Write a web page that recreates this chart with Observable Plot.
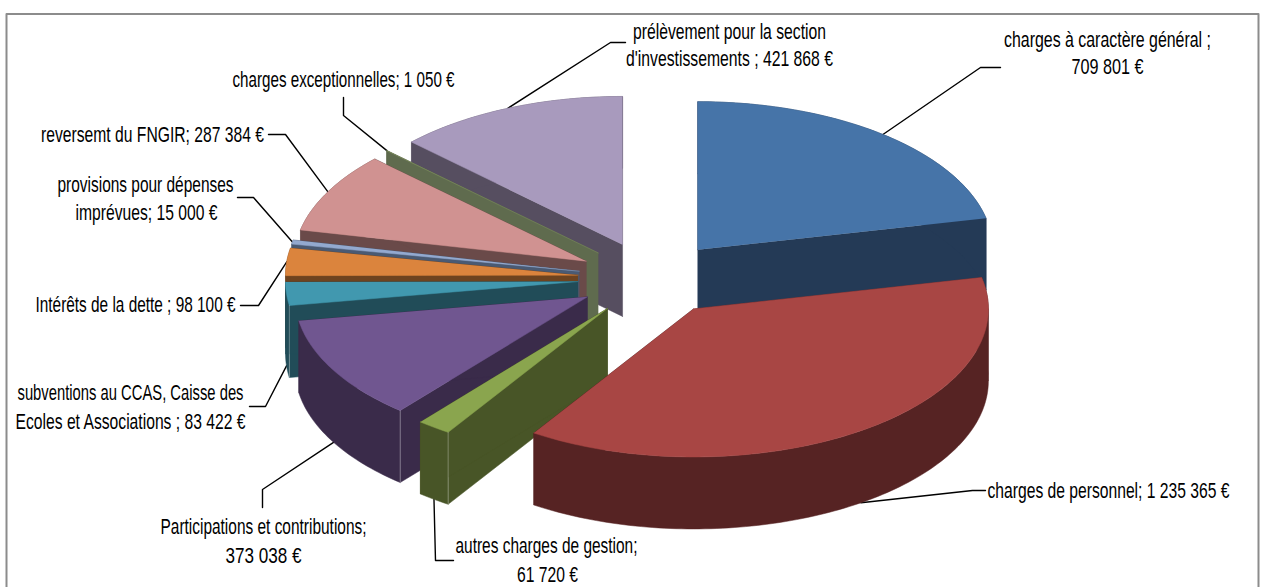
<!DOCTYPE html>
<html lang="fr">
<head>
<meta charset="utf-8">
<script src="https://cdn.jsdelivr.net/npm/d3@7"></script>
<script src="https://cdn.jsdelivr.net/npm/@observablehq/plot@0.6"></script>
<style>
html,body{margin:0;padding:0;background:#fff;overflow:hidden}
svg{display:block}
</style>
</head>
<body>
<div id="chart"></div>
<script>
// --- data -------------------------------------------------------------
const categories = ["charges à caractère général","charges de personnel","autres charges de gestion",
  "Participations et contributions","subventions au CCAS, Caisse des Ecoles et Associations",
  "Intérêts de la dette","provisions pour dépenses imprévues","reversemt du FNGIR",
  "charges exceptionnelles","prélèvement pour la section d'investissements"];
const values = [709801,1235365,61720,373038,83422,98100,15000,287384,1050,421868];
const topColors  = ["#4674a8","#a84644","#8aa54e","#705690","#4198af","#db843d","#93a9cf","#d09291","#7f8f5f","#a89abd"];
const wallColors = ["#243a56","#562323","#485527","#3a2b4a","#214c58","#6e431f","#4a5a73","#6a4a49","#5f6b4e","#564e60"];
// painter's order, back to front
const drawOrder = [0,9,8,7,6,5,4,3,2,1];
// slices whose first front corner carries a faint highlight
const cornerSlices = [2,3,4];

// --- callout layout ---------------------------------------------------
const labelLines = ["charges à caractère général ;","709 801 €","charges de personnel; 1 235 365 €",
  "autres charges de gestion;","61 720 €","Participations et contributions;","373 038 €",
  "subventions au CCAS, Caisse des","Ecoles et Associations ; 83 422 €","Intérêts de la dette ; 98 100 €",
  "provisions pour dépenses","imprévues; 15 000 €","reversemt du FNGIR; 287 384 €",
  "charges exceptionnelles; 1 050 €","prélèvement pour la section","d'investissements ; 421 868 €"];
const labelX = [1107,1107,1108,546,547,263,263,130,130,135,145,146,152,343,729,729];
const labelY = [40,67,491,546,575,527,556,393,422,305,185,213,135,80,32,59];
const labelW = [207,72,242,182,61,206,76,226,230,200,176,142,223,222,193,207];
// elbow and end of each leader, per slice; "drop" = attach at the bottom of the rim
const leaderElbowX = [980,972,435,262,265,258,253,285,343,610];
const leaderElbowY = [67,490,560,489,406,305,197,134,115,42];
const leaderEndX   = [1000,985,453,262,249,240,237,268,343,625];
const leaderEndY   = [67,490,560,507,406,305,197,134,97,42];
const leaderDrop   = [0,1,1,1,1,0,0,0,0,0];

// --- pie geometry ------------------------------------------------------
const W = 1261, H = 587;
const cx = 651, cy = 278, rx = 295, rxLeft = 292.5, ry = 148, explode = 0.25, depth = 72;
const arcs = d3.pie().sort(null).value(d => d)(values);
const mid = a => (a.startAngle + a.endAngle) / 2;
const apex = a => [cx + explode * rx * Math.sin(mid(a)), cy - explode * ry * Math.cos(mid(a))];
const onRim = (a, t, dz = 0) => {
  const [ax, ay] = apex(a);
  const s = Math.sin(t);
  return [ax + (s < 0 ? rxLeft : rx) * s, ay - ry * Math.cos(t) + dz];
};
const arcBetween = (a, t0, t1, dz = 0) => {
  const n = Math.max(2, Math.ceil((t1 - t0) / 0.02));
  return d3.range(n + 1).map(k => onRim(a, t0 + (t1 - t0) * k / n, dz));
};
const rows = (id, pts) => pts.map(([x, y]) => ({id, x, y}));
// the rim is cut where it turns back in x, so that no piece folds over itself
const turns = [Math.PI / 2, 3 * Math.PI / 2];
const rimRows = a => {
  const cuts = [a.startAngle, ...turns.filter(t => t > a.startAngle && t < a.endAngle), a.endAngle];
  return d3.pairs(cuts).flatMap(([t0, t1], k) =>
    rows("rim" + k, [...arcBetween(a, t0, t1), ...arcBetween(a, t0, t1, depth).reverse()]));
};
const wallRows = a => {
  const [ax, ay] = apex(a);
  const A = [ax, ay], B = [ax, ay + depth];
  const s0 = onRim(a, a.startAngle), s1 = onRim(a, a.startAngle, depth);
  const e0 = onRim(a, a.endAngle), e1 = onRim(a, a.endAngle, depth);
  return [...rows("start", [A, s0, s1, B]), ...rows("end", [A, e0, e1, B]), ...rimRows(a)];
};
const topRows = a => rows("top", [apex(a), ...arcBetween(a, a.startAngle, a.endAngle)]);

const sliceMarks = drawOrder.flatMap(i => {
  const a = arcs[i];
  const marks = [
    Plot.line(wallRows(a), {x: "x", y: "y", z: "id", fill: wallColors[i], stroke: wallColors[i], strokeWidth: 0.5}),
    Plot.line(topRows(a), {x: "x", y: "y", z: "id", fill: topColors[i], stroke: topColors[i], strokeWidth: 0.5})
  ];
  if (cornerSlices.includes(i)) {
    marks.push(Plot.line(rows("c", [onRim(a, a.startAngle), onRim(a, a.startAngle, depth)]),
      {x: "x", y: "y", stroke: "#fff", strokeOpacity: 0.3, strokeWidth: 1}));
  }
  return marks;
});

const leaderRows = arcs.flatMap((a, i) => rows(categories[i], [
  onRim(a, mid(a), leaderDrop[i] ? depth : 0),
  [leaderElbowX[i], leaderElbowY[i]],
  [leaderEndX[i], leaderEndY[i]]
]));

const labelRows = labelLines.map((text, i) => ({text, x: labelX[i], y: labelY[i], w: labelW[i]}));
const frameRows = rows("frame", [[6, H + 5], [6, 13.5], [1258, 13.5], [1258, H + 5]]);

const plot = Plot.plot({
  width: W, height: H, margin: 0,
  x: {domain: [0, W], range: [0, W], axis: null},
  y: {domain: [0, H], range: [0, H], axis: null},
  style: {background: "#fff"},
  marks: [
    Plot.line(frameRows, {x: "x", y: "y", stroke: "#8c8c8c", strokeWidth: 2, clip: true}),
    Plot.line(leaderRows, {x: "x", y: "y", z: "id", stroke: "#000", strokeWidth: 1.4}),
    ...sliceMarks,
    Plot.text(labelRows, {x: "x", y: "y", text: "text", textAnchor: "middle", lineAnchor: "middle",
      fill: "#000", fontSize: 21.5, fontFamily: "'Liberation Sans Narrow','Liberation Sans',sans-serif",
      className: "callout"})
  ]
});
d3.select(plot).selectAll(".callout text").each(function (_, k) {
  this.setAttribute("textLength", labelRows[k].w);
  this.setAttribute("lengthAdjust", "spacingAndGlyphs");
});
document.getElementById("chart").appendChild(plot);
</script>
</body>
</html>
